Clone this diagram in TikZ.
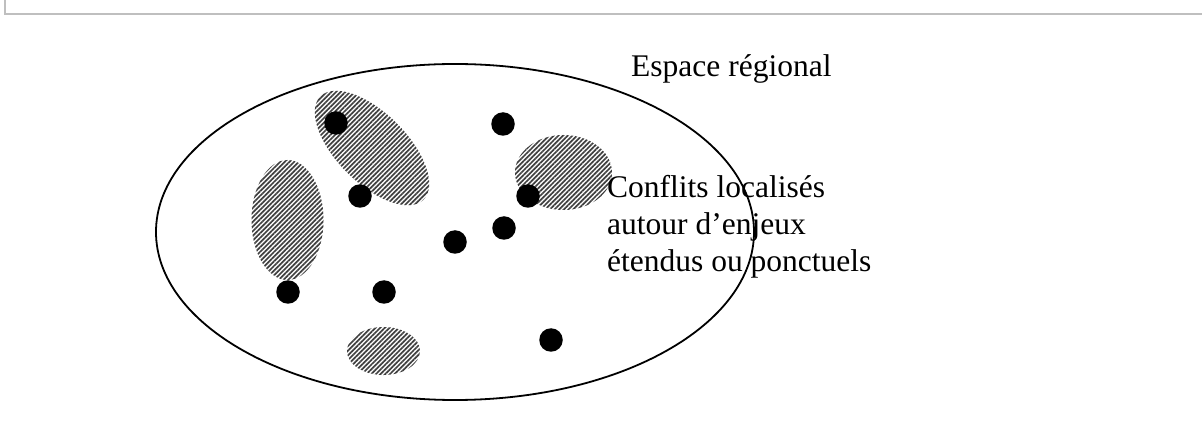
\documentclass[tikz,border=0pt]{standalone}
\usepackage{fontspec}
\setmainfont{Liberation Serif}
\usetikzlibrary{patterns.meta}
\begin{document}
\begin{tikzpicture}[x=1pt,y=1pt,
  dot/.style={circle,fill=black,draw=none,minimum size=23.5pt,inner sep=0pt},
  hatch/.style={pattern={Lines[angle=45,distance=3.3pt,line width=1.7pt]},pattern color=black!75},
  label/.style={anchor=base west,inner sep=0pt,font=\fontsize{31.5}{37}\selectfont}]
\useasboundingbox (0,0) rectangle (1202,442);
% frame
\draw[black!25,line width=2pt] (5,442) -- (5,427.5) -- (1202,427.5);
% hatched zones
\fill[hatch] (372,294) ellipse [x radius=73,y radius=35,rotate=-45];
\fill[hatch] (287.5,222) ellipse [x radius=36,y radius=60];
\fill[hatch] (383.5,91) ellipse [x radius=36.5,y radius=24];
\fill[hatch] (563.5,269.5) ellipse [x radius=48.5,y radius=37.5];
% regional space
\draw[line width=1.8pt] (455,210) ellipse [x radius=299,y radius=168];
% points
\node[dot] (d1) at (336,319) {};
\node[dot] (d2) at (503,318) {};
\node[dot] (d3) at (360,246) {};
\node[dot] (d4) at (528,246) {};
\node[dot] (d5) at (504,214) {};
\node[dot] (d6) at (455,200) {};
\node[dot] (d7) at (288,150) {};
\node[dot] (d8) at (384,150) {};
\node[dot] (d9) at (551,102) {};
% texts
\node[label] (esp) at (631,365) {Espace régional};
\node[label] (c1) at (607,244) {Conflits localisés};
\node[label] (c2) at (607,207) {autour d’enjeux};
\node[label] (c3) at (607,170) {étendus ou ponctuels};
\end{tikzpicture}
\end{document}
